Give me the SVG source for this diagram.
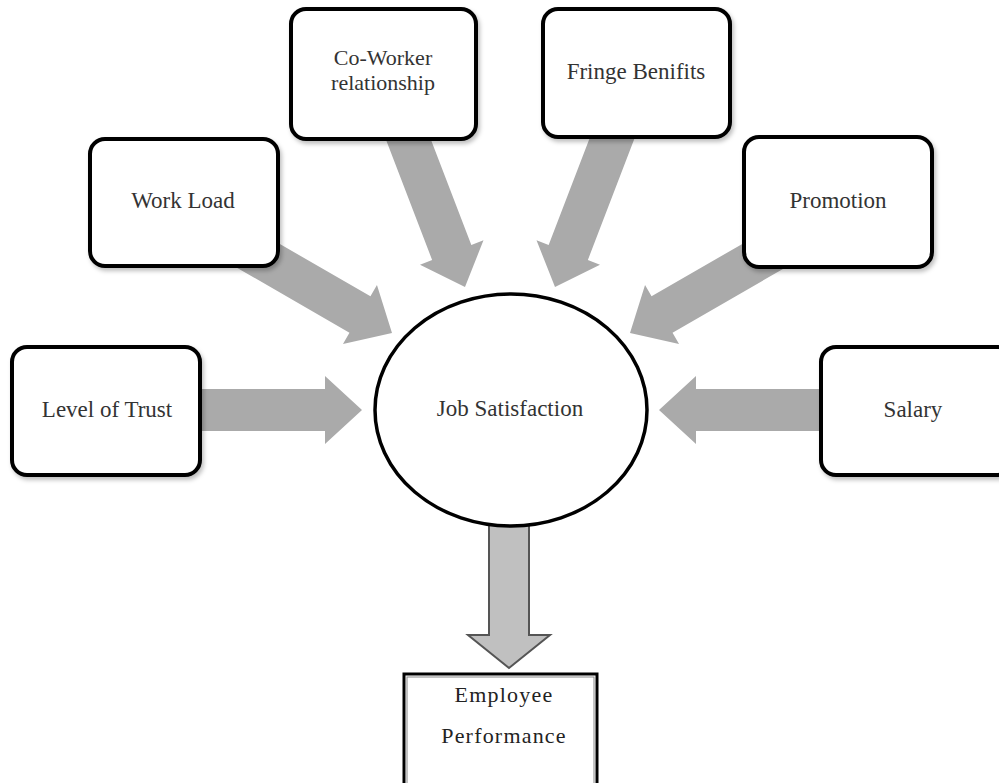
<svg xmlns="http://www.w3.org/2000/svg" width="999" height="783" viewBox="0 0 999 783">
<style>
  .box { fill: #ffffff; stroke: #000000; stroke-width: 4; filter: url(#shadow); }
  .lbl { font-family: "Liberation Serif", "Times New Roman", serif; font-size: 23px; fill: #333333; text-anchor: middle; }
  .sm { font-size: 22px; }
  .arrow { fill: #aaaaaa; }
  .ep { font-family: "Liberation Serif", "Times New Roman", serif; font-size: 22px; letter-spacing: 1.2px; fill: #222222; text-anchor: middle; }
</style>
<defs>
  <filter id="shadow" x="-10%" y="-10%" width="125%" height="130%">
    <feDropShadow dx="2" dy="3" stdDeviation="2" flood-color="#000000" flood-opacity="0.25"/>
  </filter>
  <polygon id="fat" points="-170,-21 -37,-21 -37,-34 0,0 -37,34 -37,21 -170,21"/>
</defs>
<rect width="999" height="783" fill="#ffffff"/>

<g id="connectors">
  <use href="#fat" class="arrow" transform="translate(362,410)"/>
  <use href="#fat" class="arrow" transform="translate(659,410) rotate(180)"/>
  <use href="#fat" class="arrow" transform="translate(392,333) rotate(30)"/>
  <use href="#fat" class="arrow" transform="translate(630,333) rotate(150)"/>
  <use href="#fat" class="arrow" transform="translate(465,287) rotate(69)"/>
  <use href="#fat" class="arrow" transform="translate(555,287) rotate(111)"/>
  <polygon points="489,515 529,515 529,635 550,635 509,668 468,635 489,635" fill="#c0c0c0" stroke="#555555" stroke-width="2"/>
</g>

<g id="node-trust">
  <rect class="box" x="12" y="347" width="188" height="128" rx="15"/>
  <text class="lbl" x="107" y="417">Level of Trust</text>
</g>
<g id="node-workload">
  <rect class="box" x="90" y="139" width="188" height="127" rx="15"/>
  <text class="lbl" x="183" y="208">Work Load</text>
</g>
<g id="node-coworker">
  <rect class="box" x="291" y="9" width="185" height="130" rx="15"/>
  <text class="lbl sm" x="383" y="65">Co-Worker</text>
  <text class="lbl sm" x="383" y="90">relationship</text>
</g>
<g id="node-fringe">
  <rect class="box" x="543" y="9" width="187" height="128" rx="15"/>
  <text class="lbl" x="636" y="79">Fringe Benifits</text>
</g>
<g id="node-promotion">
  <rect class="box" x="744" y="137" width="188" height="130" rx="15"/>
  <text class="lbl" x="838" y="208">Promotion</text>
</g>
<g id="node-salary">
  <rect class="box" x="821" y="347" width="192" height="128" rx="15"/>
  <text class="lbl" x="913" y="417">Salary</text>
</g>
<g id="node-job">
  <ellipse cx="511" cy="410" rx="136" ry="116" fill="#ffffff" stroke="#000000" stroke-width="3.5"/>
  <text class="lbl" x="510" y="416">Job Satisfaction</text>
</g>
<g id="node-performance">
  <rect x="404" y="674" width="193" height="120" fill="#ffffff" stroke="#000000" stroke-width="3"/>
  <rect x="407" y="677" width="187" height="114" fill="none" stroke="#888888" stroke-width="1"/>
  <text class="ep" x="504" y="702">Employee</text>
  <text class="ep" x="504" y="743">Performance</text>
</g>
</svg>
